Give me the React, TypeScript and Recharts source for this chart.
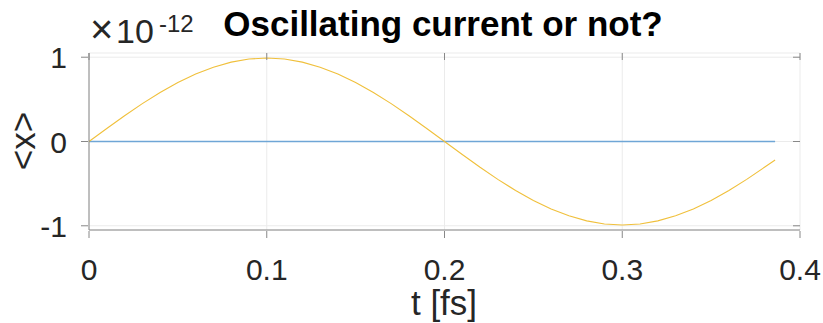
import { CartesianGrid, Line, LineChart, XAxis, YAxis } from "recharts";

// time axis in fs
const T = [
  0, 0.01, 0.02, 0.03, 0.04, 0.05, 0.06, 0.07, 0.08, 0.09, 0.1, 0.11, 0.12, 0.13, 0.14, 0.15, 0.16, 0.17, 0.18,
  0.19, 0.2, 0.21, 0.22, 0.23, 0.24, 0.25, 0.26, 0.27, 0.28, 0.29, 0.3, 0.31, 0.32, 0.33, 0.34, 0.35, 0.36, 0.37,
  0.38, 0.386,
];
// <x> in units of 1e-12
const OSC = [
  0, 0.155, 0.306, 0.449, 0.582, 0.7, 0.801, 0.882, 0.942, 0.978, 0.99, 0.978, 0.942, 0.882, 0.801, 0.7, 0.582,
  0.449, 0.306, 0.155, 0, -0.155, -0.306, -0.449, -0.582, -0.7, -0.801, -0.882, -0.942, -0.978, -0.99, -0.978,
  -0.942, -0.882, -0.801, -0.7, -0.582, -0.449, -0.306, -0.22,
];
const FLAT = T.map(() => 0);

const X_TICKS = [0, 0.1, 0.2, 0.3, 0.4];
const Y_TICKS = [-1, 0, 1];

const rows = T.map((t, i) => ({ t, osc: OSC[i], flat: FLAT[i] }));

const W = 823;
const H = 323;
const FONT = "'Liberation Sans', Helvetica, Arial, sans-serif";
const AX = "#262626";

function XTick(props: any) {
  const { x, y, payload } = props;
  return (
    <g>
      <line x1={x} x2={x} y1={y} y2={y - 7} stroke="#888" />
      <line x1={x} x2={x} y1={53} y2={60} stroke="#888" />
      <text x={x} y={y + 42} textAnchor="middle" fontSize={30} fill={AX} fontFamily={FONT}>
        {payload.value}
      </text>
    </g>
  );
}

function YTick(props: any) {
  const { x, y, payload } = props;
  return (
    <g>
      <line x1={x} x2={x + 7} y1={y} y2={y} stroke="#888" />
      <line x1={800} x2={793} y1={y} y2={y} stroke="#888" />
      <text x={x - 14} y={y + 11} textAnchor="end" fontSize={30} fill={AX} fontFamily={FONT}>
        {payload.value}
      </text>
    </g>
  );
}

export default function App() {
  return (
    <div style={{ position: "absolute", left: 0, top: 0, width: W, height: H, background: "#fff" }}>
      <LineChart width={W} height={H} data={rows} margin={{ top: 53, right: 23, bottom: 33, left: 29 }}>
        <CartesianGrid stroke="#ebebeb" vertical horizontal />
        <XAxis
          dataKey="t"
          type="number"
          domain={[0, 0.4]}
          ticks={X_TICKS}
          tick={<XTick />}
          tickLine={false}
          axisLine={{ stroke: "#888" }}
          height={60}
          interval={0}
        />
        <YAxis
          type="number"
          domain={[-1.05, 1.05]}
          ticks={Y_TICKS}
          tick={<YTick />}
          tickLine={false}
          axisLine={{ stroke: "#888" }}
          width={60}
          interval={0}
          allowDataOverflow
        />
        <XAxis xAxisId="top" orientation="top" dataKey="t" type="number" domain={[0, 0.4]} tick={false} axisLine={{ stroke: "#888" }} height={0} />
        <YAxis yAxisId="right" orientation="right" domain={[-1, 1]} tick={false} axisLine={{ stroke: "#888" }} width={0} />
        <Line dataKey="flat" stroke="#6fa6d6" strokeWidth={1.3} dot={false} isAnimationActive={false} />
        <Line dataKey="osc" stroke="#f0c03c" strokeWidth={1.1} dot={false} isAnimationActive={false} />
      </LineChart>
      <svg width={W} height={H} style={{ position: "absolute", left: 0, top: 0, pointerEvents: "none" }}>
        <text x={443} y={36} textAnchor="middle" fontSize={35} fontWeight="bold" fill="#000" fontFamily={FONT}>
          Oscillating current or not?
        </text>
        <text x={90} y={43} fontSize={40} fill={AX} fontFamily={FONT}>
          {"×"}
        </text>
        <text x={116} y={43} fontSize={34} fill={AX} fontFamily={FONT}>
          {"10"}
        </text>
        <text x={159} y={32} fontSize={24} fill={AX} fontFamily={FONT}>
          {"-12"}
        </text>
        <text x={444} y={315} textAnchor="middle" fontSize={35} fill={AX} fontFamily={FONT}>
          t [fs]
        </text>
        <text
          x={0}
          y={0}
          transform="translate(35,141) rotate(-90)"
          textAnchor="middle"
          fontSize={35}
          fill={AX}
          fontFamily={FONT}
        >
          {"<x>"}
        </text>
      </svg>
    </div>
  );
}
